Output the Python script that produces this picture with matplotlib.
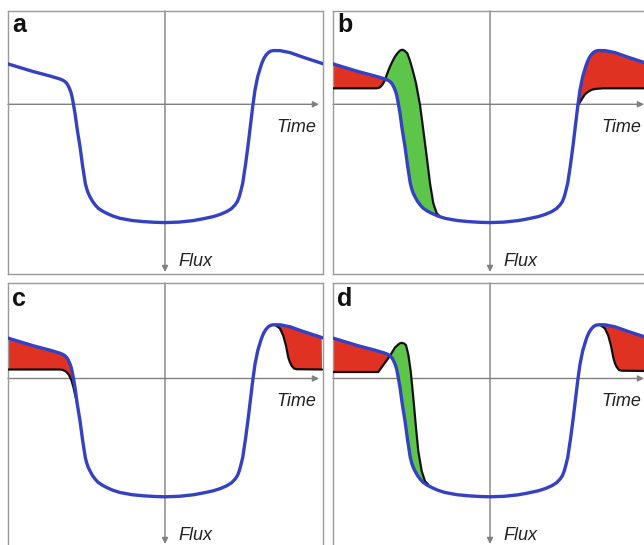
import matplotlib
matplotlib.use("Agg")
import matplotlib.pyplot as plt
import numpy as np

plt.rcParams["font.family"] = ["Liberation Sans", "DejaVu Sans"]

# blue transit curve, same in every panel (time, flux; axes cross at 0,0)
blue_t = np.array([-1.567, -1.317, -1.15, -1.05, -1.02, -1.0, -0.983, -0.967, -0.955, -0.943,
                   -0.933, -0.923, -0.9, -0.877, -0.85, -0.823, -0.797, -0.783, -0.767, -0.745,
                   -0.723, -0.695, -0.667, -0.625, -0.583, -0.52, -0.45, -0.33, -0.217, -0.1,
                   0.0, 0.14, 0.283, 0.38, 0.483, 0.555, 0.617, 0.665, 0.70, 0.725,
                   0.743, 0.76, 0.777, 0.807, 0.833, 0.857, 0.877, 0.90, 0.927, 0.957,
                   0.972, 0.99, 1.01, 1.033, 1.057, 1.083, 1.15, 1.25, 1.383, 1.567])
blue_f = np.array([0.403, 0.327, 0.283, 0.253, 0.24, 0.227, 0.21, 0.183, 0.157, 0.127,
                   0.09, 0.043, -0.09, -0.257, -0.423, -0.623, -0.79, -0.845, -0.89, -0.935,
                   -0.973, -1.01, -1.04, -1.068, -1.09, -1.118, -1.14, -1.162, -1.173, -1.18,
                   -1.183, -1.178, -1.163, -1.145, -1.123, -1.1, -1.073, -1.043, -1.007, -0.97,
                   -0.923, -0.86, -0.79, -0.59, -0.39, -0.19, -0.023, 0.143, 0.277, 0.377,
                   0.42, 0.46, 0.492, 0.517, 0.532, 0.537, 0.537, 0.517, 0.47, 0.41])

# black curves, only where they leave the blue one
b_left_t = [-1.57, -1.14, -1.11, -1.09, -1.07, -1.05]
b_left_f = [0.16, 0.16, 0.165, 0.18, 0.205, 0.245]
b_bump_t = [-1.05, -1.025, -1.0, -0.975, -0.95, -0.925, -0.90, -0.883, -0.867, -0.847,
            -0.827, -0.805, -0.783, -0.76, -0.74, -0.70, -0.667, -0.633, -0.60, -0.567,
            -0.533, -0.50]
b_bump_f = [0.245, 0.315, 0.377, 0.43, 0.477, 0.512, 0.537, 0.545, 0.543, 0.53,
            0.51, 0.45, 0.377, 0.29, 0.21, -0.007, -0.257, -0.523, -0.79, -0.99,
            -1.09, -1.123]
b_right_t = [0.88, 0.917, 0.95, 0.983, 1.017, 1.05, 1.13, 1.57]
b_right_f = [-0.01, 0.05, 0.10, 0.127, 0.145, 0.153, 0.16, 0.16]

c_left_t = [-1.57, -1.05, -1.02, -0.99, -0.96, -0.935, -0.915, -0.895, -0.877]
c_left_f = [0.09, 0.09, 0.085, 0.07, 0.035, -0.02, -0.09, -0.18, -0.257]
c_right_t = [1.10, 1.15, 1.183, 1.21, 1.233, 1.25, 1.267, 1.29, 1.317, 1.57]
c_right_f = [0.537, 0.50, 0.427, 0.327, 0.21, 0.16, 0.127, 0.1, 0.093, 0.09]

d_left_t = [-1.57, -1.117, -1.0]
d_left_f = [0.065, 0.065, 0.227]
d_bump_t = [-1.0, -0.95, -0.917, -0.9, -0.883, -0.86, -0.84, -0.817, -0.793, -0.767,
            -0.74, -0.717, -0.683, -0.65, -0.617]
d_bump_f = [0.227, 0.31, 0.34, 0.352, 0.357, 0.35, 0.333, 0.24, 0.073, -0.193,
            -0.493, -0.727, -0.927, -1.027, -1.06]
d_right_t = [1.10, 1.15, 1.183, 1.21, 1.233, 1.25, 1.267, 1.29, 1.317, 1.57]
d_right_f = [0.537, 0.50, 0.427, 0.327, 0.21, 0.15, 0.115, 0.085, 0.078, 0.075]

RED = "#e03222"
GREEN = "#5ec54b"
BLUE = "#3441c2"
GREY = "#808080"

panels = [
    ("a", 8, 11, 0.933, []),
    ("b", 333, 11, 0.933, [(b_left_t, b_left_f, RED), (b_bump_t, b_bump_f, GREEN),
                           (b_right_t, b_right_f, RED)]),
    ("c", 8, 283, 0.955, [(c_left_t, c_left_f, RED), (c_right_t, c_right_f, RED)]),
    ("d", 333, 283, 0.955, [(d_left_t, d_left_f, RED), (d_bump_t, d_bump_f, GREEN),
                            (d_right_t, d_right_f, RED)]),
]


def band(ax, bt, bf, color):
    bt = np.asarray(bt)
    bf = np.asarray(bf)
    m = (blue_t >= bt.min()) & (blue_t <= bt.max())
    xs = np.concatenate([bt, blue_t[m][::-1]])
    ys = np.concatenate([bf, blue_f[m][::-1]])
    ax.fill(xs, ys, color=color, lw=0, zorder=2)


W, H = 644, 545
fig = plt.figure(figsize=(W / 100, H / 100), dpi=100)

for label, left, top, ytop, segs in panels:
    ax = fig.add_axes([left / W, 1 - (top + 263) / H, 315 / W, 263 / H])
    ax.set_xlim(-1.57, 1.58)
    ax.set_ylim(ytop - 2.63, ytop)
    ax.set_xticks([])
    ax.set_yticks([])
    for s in ax.spines.values():
        s.set_color("#9a9a9a")
        s.set_linewidth(1.0)

    # crossing axes with arrows
    ax.annotate("", xy=(1.54, 0), xytext=(-1.57, 0),
                arrowprops=dict(arrowstyle="-|>", color=GREY, lw=1.0,
                                mutation_scale=9, shrinkA=0, shrinkB=0), zorder=1)
    ax.annotate("", xy=(0, ytop - 2.61), xytext=(0, ytop),
                arrowprops=dict(arrowstyle="-|>", color=GREY, lw=1.0,
                                mutation_scale=9, shrinkA=0, shrinkB=0), zorder=1)

    for bt, bf, col in segs:
        band(ax, bt, bf, col)
        ax.plot(bt, bf, color="#111111", lw=1.6, zorder=3,
                solid_capstyle="round", solid_joinstyle="round")
    ax.plot(blue_t, blue_f, color=BLUE, lw=2.4, zorder=4, solid_joinstyle="round")

    ax.text(1.51, -0.274, "Time", style="italic", fontsize=13, color="#222222",
            ha="right", va="baseline")
    ax.text(0.13, -1.617, "Flux", style="italic", fontsize=13, color="#222222",
            ha="left", va="baseline")
    ax.text(-1.53, 0.72, label, fontweight="bold", fontsize=18, color="#111111",
            ha="left", va="baseline")

fig.savefig("out.png", dpi=100)
